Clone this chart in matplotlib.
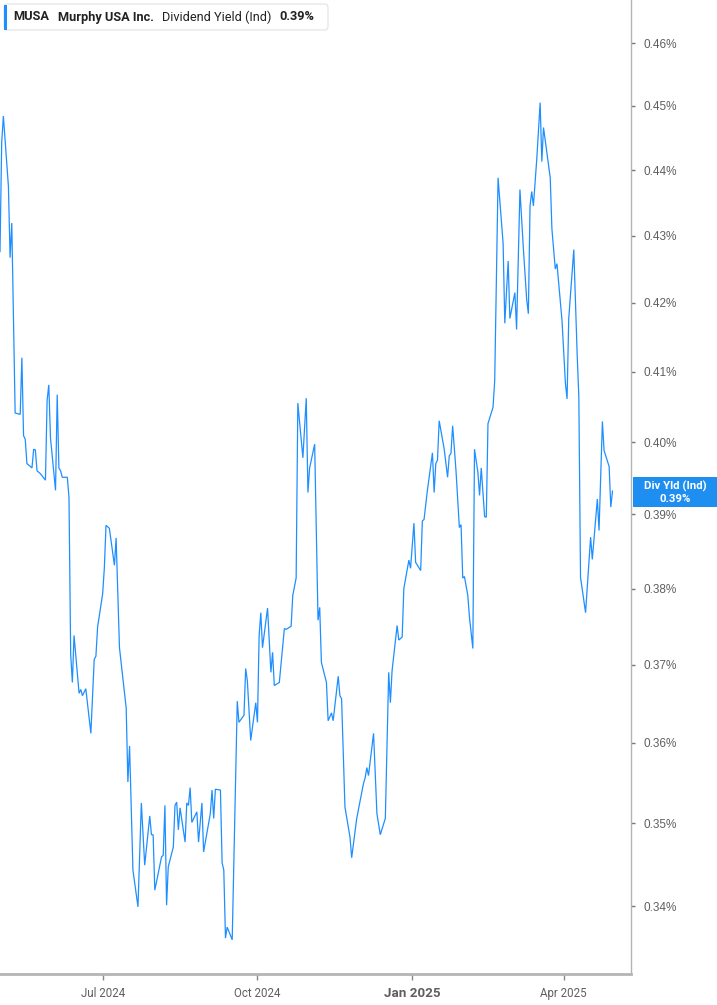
import matplotlib
matplotlib.use("Agg")
import matplotlib.pyplot as plt
import matplotlib.dates as mdates
import matplotlib.ticker as mticker
from matplotlib.patches import FancyBboxPatch, Rectangle
import pandas as pd

# ---------------- data ----------------
dates = [
    "2024-05-01", "2024-05-02", "2024-05-03", "2024-05-06", "2024-05-07", "2024-05-08",
    "2024-05-10", "2024-05-13", "2024-05-14", "2024-05-15", "2024-05-16", "2024-05-17",
    "2024-05-20", "2024-05-21", "2024-05-22", "2024-05-23", "2024-05-25", "2024-05-28",
    "2024-05-29", "2024-05-30", "2024-05-31", "2024-06-03", "2024-06-04", "2024-06-05",
    "2024-06-06", "2024-06-07", "2024-06-10", "2024-06-11", "2024-06-12", "2024-06-13",
    "2024-06-14", "2024-06-17", "2024-06-18", "2024-06-19", "2024-06-21", "2024-06-24",
    "2024-06-26", "2024-06-27", "2024-06-28", "2024-07-01", "2024-07-02", "2024-07-03",
    "2024-07-05", "2024-07-08", "2024-07-09", "2024-07-11", "2024-07-15", "2024-07-16",
    "2024-07-17", "2024-07-19", "2024-07-22", "2024-07-24", "2024-07-26", "2024-07-29",
    "2024-07-30", "2024-07-31", "2024-08-01", "2024-08-05", "2024-08-06", "2024-08-07",
    "2024-08-08", "2024-08-09", "2024-08-12", "2024-08-13", "2024-08-14", "2024-08-15",
    "2024-08-16", "2024-08-19", "2024-08-20", "2024-08-21", "2024-08-22", "2024-08-23",
    "2024-08-26", "2024-08-27", "2024-08-29", "2024-08-30", "2024-09-03", "2024-09-04",
    "2024-09-05", "2024-09-06", "2024-09-09", "2024-09-10", "2024-09-11", "2024-09-12",
    "2024-09-13", "2024-09-16", "2024-09-19", "2024-09-20", "2024-09-23", "2024-09-24",
    "2024-09-25", "2024-09-27", "2024-09-30", "2024-10-01", "2024-10-02", "2024-10-03",
    "2024-10-04", "2024-10-07", "2024-10-09", "2024-10-10", "2024-10-11", "2024-10-14",
    "2024-10-17", "2024-10-18", "2024-10-21", "2024-10-22", "2024-10-24", "2024-10-25",
    "2024-10-28", "2024-10-30", "2024-10-31", "2024-11-01", "2024-11-04", "2024-11-06",
    "2024-11-07", "2024-11-08", "2024-11-11", "2024-11-12", "2024-11-14", "2024-11-15",
    "2024-11-18", "2024-11-19", "2024-11-20", "2024-11-22", "2024-11-25", "2024-11-26",
    "2024-11-29", "2024-12-03", "2024-12-04", "2024-12-05", "2024-12-06", "2024-12-09",
    "2024-12-11", "2024-12-13", "2024-12-16", "2024-12-18", "2024-12-19", "2024-12-20",
    "2024-12-23", "2024-12-24", "2024-12-26", "2024-12-27", "2024-12-30", "2024-12-31",
    "2025-01-02", "2025-01-03", "2025-01-06", "2025-01-07", "2025-01-08", "2025-01-10",
    "2025-01-13", "2025-01-14", "2025-01-15", "2025-01-16", "2025-01-17", "2025-01-20",
    "2025-01-22", "2025-01-23", "2025-01-24", "2025-01-25", "2025-01-27", "2025-01-29",
    "2025-01-30", "2025-01-31", "2025-02-01", "2025-02-03", "2025-02-04", "2025-02-06",
    "2025-02-07", "2025-02-09", "2025-02-10", "2025-02-11", "2025-02-13", "2025-02-14",
    "2025-02-15", "2025-02-18", "2025-02-19", "2025-02-21", "2025-02-24", "2025-02-25",
    "2025-02-27", "2025-02-28", "2025-03-03", "2025-03-04", "2025-03-06", "2025-03-08",
    "2025-03-10", "2025-03-11", "2025-03-12", "2025-03-13", "2025-03-14", "2025-03-16",
    "2025-03-18", "2025-03-19", "2025-03-20", "2025-03-24", "2025-03-25", "2025-03-27",
    "2025-03-28", "2025-03-31", "2025-04-02", "2025-04-03", "2025-04-04", "2025-04-07",
    "2025-04-09", "2025-04-10", "2025-04-11", "2025-04-14", "2025-04-17", "2025-04-18",
    "2025-04-21", "2025-04-22", "2025-04-24", "2025-04-25", "2025-04-28", "2025-04-29",
    "2025-04-30",
]

div_yield = [
    0.4276, 0.4442, 0.4484, 0.4375, 0.4267, 0.4319,
    0.4041, 0.4039, 0.4120, 0.4009, 0.4004, 0.3970,
    0.3964, 0.3990, 0.3989, 0.3960, 0.3956, 0.3947,
    0.4059, 0.4081, 0.4006, 0.3933, 0.4067, 0.3964,
    0.3960, 0.3951, 0.3951, 0.3923, 0.3714, 0.3677,
    0.3738, 0.3663, 0.3668, 0.3660, 0.3669, 0.3612,
    0.3707, 0.3711, 0.3749, 0.3793, 0.3827, 0.3885,
    0.3881, 0.3831, 0.3868, 0.3722, 0.3644, 0.3551,
    0.3596, 0.3443, 0.3399, 0.3525, 0.3449, 0.3509,
    0.3486, 0.3486, 0.3419, 0.3459, 0.3461, 0.3522,
    0.3401, 0.3447, 0.3471, 0.3522, 0.3526, 0.3492,
    0.3519, 0.3477, 0.3525, 0.3522, 0.3544, 0.3501,
    0.3514, 0.3477, 0.3525, 0.3465, 0.3512, 0.3541,
    0.3506, 0.3542, 0.3541, 0.3452, 0.3443, 0.3362,
    0.3375, 0.3360, 0.3653, 0.3626, 0.3635, 0.3695,
    0.3679, 0.3603, 0.3651, 0.3626, 0.3738, 0.3768,
    0.3722, 0.3774, 0.3690, 0.3716, 0.3673, 0.3677,
    0.3747, 0.3746, 0.3750, 0.3791, 0.3814, 0.4055,
    0.3978, 0.4062, 0.3930, 0.3964, 0.3997, 0.3758,
    0.3775, 0.3703, 0.3677, 0.3628, 0.3638, 0.3628,
    0.3685, 0.3660, 0.3656, 0.3520, 0.3483, 0.3458,
    0.3506, 0.3549, 0.3556, 0.3569, 0.3559, 0.3612,
    0.3512, 0.3486, 0.3506, 0.3690, 0.3651, 0.3692,
    0.3751, 0.3732, 0.3736, 0.3800, 0.3838, 0.3827,
    0.3888, 0.3835, 0.3824, 0.3891, 0.3893, 0.3933,
    0.3985, 0.3930, 0.3970, 0.3975, 0.4030, 0.3990,
    0.3951, 0.3981, 0.3984, 0.4023, 0.3960, 0.3882,
    0.3886, 0.3814, 0.3816, 0.3791, 0.3762, 0.3721,
    0.3990, 0.3958, 0.3926, 0.3964, 0.3897, 0.3896,
    0.4026, 0.4049, 0.4087, 0.4388, 0.4288, 0.4170,
    0.4262, 0.4177, 0.4215, 0.4161, 0.4370, 0.4282,
    0.4205, 0.4184, 0.4345, 0.4367, 0.4345, 0.4417,
    0.4505, 0.4413, 0.4466, 0.4388, 0.4310, 0.4250,
    0.4258, 0.4174, 0.4084, 0.4061, 0.4177, 0.4279,
    0.4125, 0.4064, 0.3815, 0.3768, 0.3869, 0.3839,
    0.3921, 0.3878, 0.4029, 0.3988, 0.3966, 0.3910,
    0.3932,
]

y_ticks = [0.34, 0.35, 0.36, 0.37, 0.38, 0.39, 0.40, 0.41, 0.42, 0.43, 0.44, 0.45, 0.46]
x_tick_dates = ["2024-07-01", "2024-10-01", "2025-01-01", "2025-04-01"]
x_tick_labels = ["Jul 2024", "Oct 2024", "Jan 2025", "Apr 2025"]

ticker_symbol = "MUSA"
company = "Murphy USA Inc."
metric = "Dividend Yield (Ind)"
last_label = "0.39%"
badge_title = "Div Yld (Ind)"
# ---------------------------------------------------------------

W, H = 717, 1005
LINE = "#1e8fff"
GRAY_TXT = "#5f5f5f"
AX_GRAY = "#b4b4b4"
ROBOTO = ["Roboto", "DejaVu Sans"]

fig = plt.figure(figsize=(W / 100, H / 100), dpi=100)
fig.patch.set_facecolor("white")

ax_right_px = 631
ax_bottom_px = 974
ax = fig.add_axes([0, 1 - ax_bottom_px / H, ax_right_px / W, ax_bottom_px / H])

x = pd.to_datetime(dates)
ax.plot(x, div_yield, color=LINE, lw=0.9, solid_joinstyle="miter")

ax.set_yscale("log")
ax.set_ylim(0.3320, 0.4670)
ax.set_xlim(pd.Timestamp("2024-05-01"), pd.Timestamp("2025-05-11"))

# y axis on the right
ax.yaxis.tick_right()
ax.yaxis.set_major_locator(mticker.FixedLocator(y_ticks))
ax.yaxis.set_minor_locator(mticker.NullLocator())
ax.yaxis.set_major_formatter(mticker.FixedFormatter([f"{t:.2f}%" for t in y_ticks]))
ax.tick_params(axis="y", which="major", direction="out", length=3, width=1,
               color="#777777", pad=6, labelsize=8.5, labelcolor=GRAY_TXT)
for lab in ax.get_yticklabels():
    lab.set_family(["Liberation Sans", "DejaVu Sans"])

# x axis
ax.xaxis.set_major_locator(mticker.FixedLocator(mdates.date2num(pd.to_datetime(x_tick_dates))))
ax.xaxis.set_major_formatter(mticker.FixedFormatter(x_tick_labels))
ax.xaxis.set_minor_locator(mticker.NullLocator())
ax.tick_params(axis="x", which="major", direction="out", length=4, width=1,
               color="#888888", pad=5, labelsize=8.3, labelcolor=GRAY_TXT)
for lab in ax.get_xticklabels():
    lab.set_family(ROBOTO)
    if lab.get_text().startswith("Jan"):
        lab.set_fontweight("bold")
        lab.set_fontsize(9.6)

for side in ("left", "top"):
    ax.spines[side].set_visible(False)
ax.spines["right"].set_color(AX_GRAY)
ax.spines["right"].set_linewidth(1.0)
ax.spines["bottom"].set_color(AX_GRAY)
ax.spines["bottom"].set_linewidth(2.0)
ax.set_facecolor("white")


def fx(px):
    return px / W


def fy(py):
    return 1 - py / H


# legend box (top-left)
box = FancyBboxPatch((fx(4), fy(30)), fx(328) - fx(4), fy(4) - fy(30),
                     boxstyle="round,pad=0,rounding_size=0.004",
                     transform=fig.transFigure, facecolor="white",
                     edgecolor="#e2e2e2", lw=0.8, zorder=5)
fig.add_artist(box)
fig.add_artist(Rectangle((fx(4), fy(30)), fx(3), fy(5) - fy(30), transform=fig.transFigure,
                         facecolor=LINE, edgecolor="none", zorder=6))
leg_y = fy(17)
fig.text(fx(13), leg_y, ticker_symbol, fontsize=9.2, fontweight="bold", color="#222222",
         va="center", ha="left", family=ROBOTO, zorder=7)
fig.text(fx(58), leg_y, company, fontsize=9.2, fontweight="bold", color="#222222",
         va="center", ha="left", family=ROBOTO, zorder=7)
fig.text(fx(162), leg_y, metric, fontsize=9.2, color="#222222",
         va="center", ha="left", family=ROBOTO, zorder=7)
fig.text(fx(279), leg_y, last_label, fontsize=9.2, fontweight="bold", color="#222222",
         va="center", ha="left", family=ROBOTO, zorder=7)

# last value badge on the right axis
fig.add_artist(Rectangle((fx(633), fy(507)), fx(717) - fx(633), fy(477) - fy(507),
                         transform=fig.transFigure, facecolor="#1f8ef1",
                         edgecolor="none", zorder=6))
fig.text(fx(675), fy(486), badge_title, fontsize=8.2, fontweight="bold", color="white",
         ha="center", va="center", family=ROBOTO, zorder=7)
fig.text(fx(675), fy(498.5), last_label, fontsize=8.2, fontweight="bold", color="white",
         ha="center", va="center", family=ROBOTO, zorder=7)

fig.savefig("out.png", dpi=100, facecolor="white")
